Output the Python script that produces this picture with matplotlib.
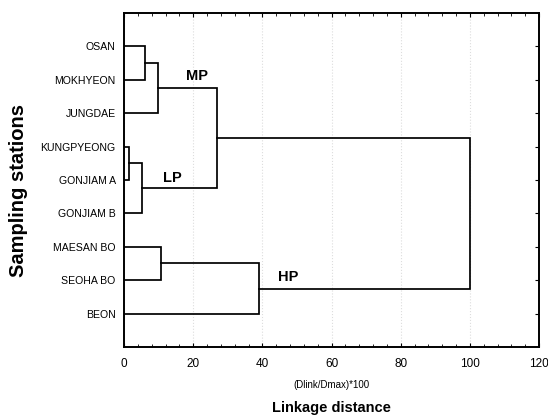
import matplotlib
matplotlib.use("Agg")
import matplotlib.pyplot as plt
import matplotlib.ticker as mticker

plt.rcParams["font.family"] = ["Liberation Sans", "DejaVu Sans"]

# stations in leaf order, top to bottom
stations = ["OSAN", "MOKHYEON", "JUNGDAE", "KUNGPYEONG", "GONJIAM A",
            "GONJIAM B", "MAESAN BO", "SEOHA BO", "BEON"]

# linkage steps: (left member, right member, height); members are leaf
# indices or "c<k>" for the k-th merged cluster
merges = [
    (0, 1, 6.1),          # c0 OSAN + MOKHYEON
    ("c0", 2, 9.7),       # c1 + JUNGDAE
    (3, 4, 1.5),          # c2 KUNGPYEONG + GONJIAM A
    ("c2", 5, 5.1),       # c3 + GONJIAM B
    ("c1", "c3", 26.8),   # c4 MP + LP
    (6, 7, 10.7),         # c5 MAESAN BO + SEOHA BO
    ("c5", 8, 39.1),      # c6 + BEON
    ("c4", "c6", 100.0),  # c7 all
]

group_labels = ["MP", "LP", "HP"]
group_pos = [(21.1, 1.9), (13.9, 4.95), (47.4, 7.9)]

fig = plt.figure(figsize=(5.48, 4.18), dpi=100)
ax = fig.add_axes([0.2263, 0.1699, 0.7573, 0.7990])

# position/height of every node
ypos = {i: i + 1 for i in range(len(stations))}
height = {i: 0.0 for i in range(len(stations))}

for k, (a, b, h) in enumerate(merges):
    ya, yb = ypos[a], ypos[b]
    ha, hb = height[a], height[b]
    ax.plot([ha, h, h, hb], [ya, ya, yb, yb], color="black", lw=1.25,
            solid_joinstyle="miter", zorder=3)
    ypos["c%d" % k] = (ya + yb) / 2
    height["c%d" % k] = h

for lab, (x, y) in zip(group_labels, group_pos):
    ax.text(x, y, lab, fontsize=10.5, fontweight="bold", ha="center", va="center")

ax.set_xlim(0, 120)
ax.set_ylim(10, 0)
ax.set_xticks([0, 20, 40, 60, 80, 100, 120])
ax.xaxis.set_minor_locator(mticker.MultipleLocator(4))
ax.set_yticks(range(1, len(stations) + 1))
ax.set_yticklabels(stations, fontsize=7.6)

ax.tick_params(axis="x", which="both", direction="in", top=True, bottom=True,
               labelsize=8.5, pad=8)
ax.tick_params(axis="x", which="major", length=3)
ax.tick_params(axis="x", which="minor", length=2)
ax.tick_params(axis="y", which="major", direction="in", left=False, right=True,
               length=3, pad=6)

ax.grid(axis="x", color="#dddddd", linestyle=":", lw=0.8)
ax.set_axisbelow(True)
for sp in ax.spines.values():
    sp.set_linewidth(1.4)

ax.set_xlabel("(Dlink/Dmax)*100", fontsize=7, labelpad=7)
fig.text(0.033, 0.545, "Sampling stations", fontsize=14.5, fontweight="bold",
         rotation=90, ha="center", va="center")
fig.text(0.605, 0.006, "Linkage distance", fontsize=10.5,
         fontweight="bold", ha="center", va="bottom")

fig.savefig("out.png", dpi=100)
